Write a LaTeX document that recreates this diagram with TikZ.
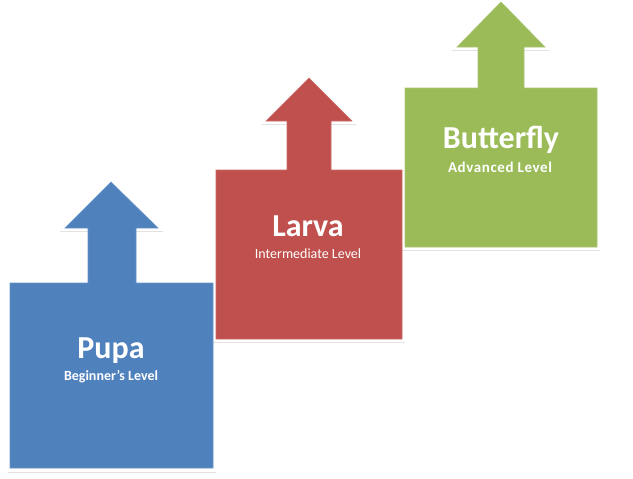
\documentclass[tikz,border=0pt]{standalone}
\usepackage{fontspec}
\setmainfont{Carlito}
\definecolor{pupablue}{HTML}{4F81BD}
\definecolor{larvared}{HTML}{C0504D}
\definecolor{flygreen}{HTML}{9BBB59}
\definecolor{shadowgray}{HTML}{E2E2E2}
\begin{document}
\begin{tikzpicture}[x=1pt,y=-1pt,
  stage/.style={line width=0.6pt},
  shade/.style={draw=shadowgray,line width=1pt},
  title/.style={text=white,font=\bfseries\fontsize{32}{36}\selectfont,inner sep=0pt},
  sub/.style={text=white,font=\fontsize{14}{16}\selectfont,inner sep=0pt}]
\useasboundingbox (0,0) rectangle (633,479);
% shadow lines
\draw[shade] (8,472) -- (216,472);
\draw[shade] (60,231) -- (163,231);
\draw[shade] (213,342) -- (405,342);
\draw[shade] (262,124) -- (356,124);
\draw[shade] (402,250) -- (600,250);
\draw[shade] (452,50) -- (549,50);
% Pupa
\fill[pupablue,draw=pupablue!85!white,stage]
  (10,468) -- (10,283) -- (88,283) -- (88,228) -- (65,228) -- (111,182)
  -- (158,228) -- (136,228) -- (136,283) -- (213,283) -- (213,468) -- cycle;
% Larva
\fill[larvared,draw=larvared!85!white,stage]
  (216,339) -- (216,170) -- (287,170) -- (287,121) -- (266,121) -- (309,78)
  -- (352,121) -- (331,121) -- (331,170) -- (402,170) -- (402,339) -- cycle;
% Butterfly
\fill[flygreen,draw=flygreen!85!white,stage]
  (405,247) -- (405,88) -- (478,88) -- (478,47) -- (457,47) -- (501,2)
  -- (545,47) -- (524,47) -- (524,88) -- (597,88) -- (597,247) -- cycle;
% texts
\node[title] (pupaT) at (111,351) {Pupa};
\node[sub,font=\bfseries\fontsize{14}{16}\selectfont] (pupaS) at (111,377) {Beginner’s Level};
\node[title] (larvaT) at (308,226) {Larva};
\node[sub] (larvaS) at (308,254) {Intermediate Level};
\node[title] (flyT) at (501,140) {Butterfly};
\node[sub,font=\bfseries\fontsize{15}{17}\selectfont\addfontfeature{LetterSpace=4}] (flyS) at (500,167) {Advanced Level};
\end{tikzpicture}
\end{document}
